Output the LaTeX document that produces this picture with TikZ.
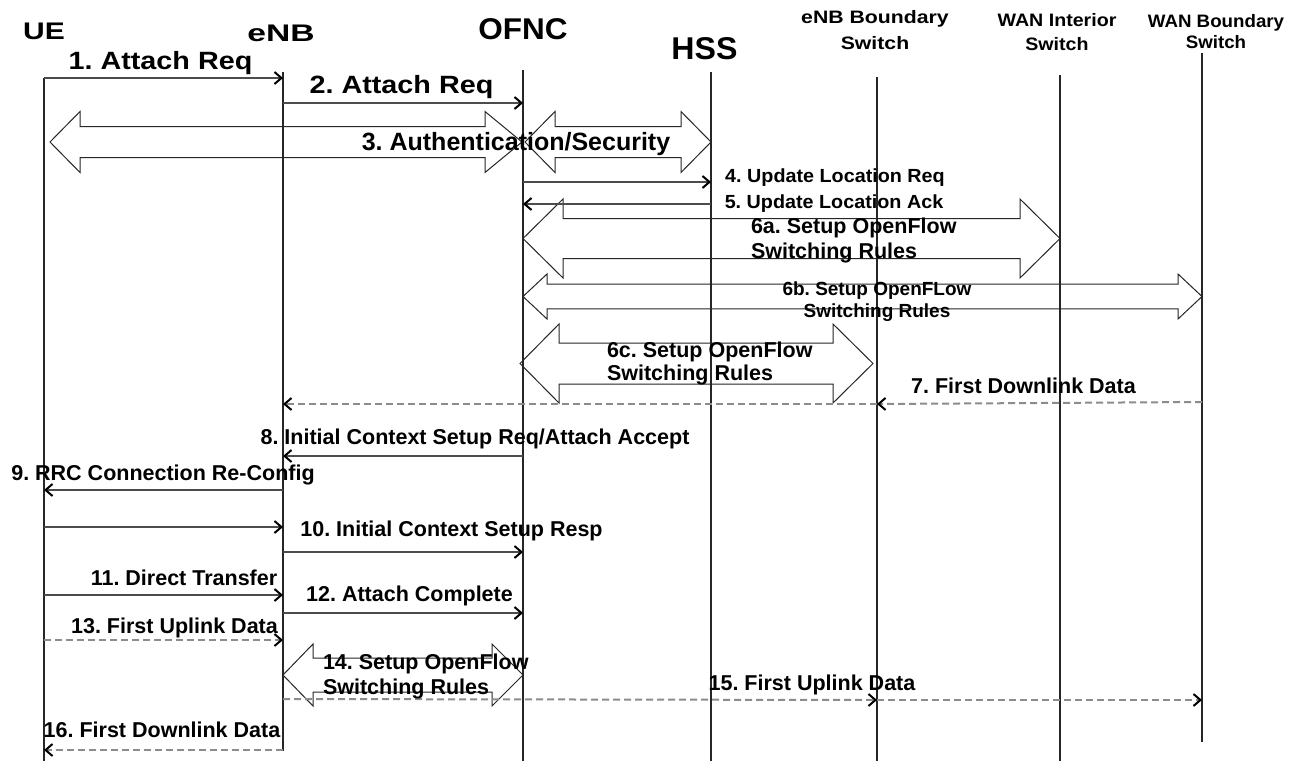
\documentclass[tikz,border=0pt]{standalone}
\usepackage{graphicx}
\usepackage{fontspec}
\setmainfont{Liberation Sans}
\usetikzlibrary{arrows.meta}
\newcommand\lab[3]{{\fontsize{#1}{#1}\selectfont\bfseries\scalebox{#2}[1]{#3}}}
\newcommand\labtwo[5]{{\fontsize{#1}{#2}\selectfont\bfseries\scalebox{#3}[1]{\begin{tabular}[t]{@{}#4@{}}#5\end{tabular}}}}
% #1 left tip x, #2 right tip x, #3 centre y, #4 shaft half height, #5 head half height, #6 left head length, #7 right head length
\newcommand\blockarrow[7]{%
  \draw[blk] (#1,#3) -- (#1+#6,#3-#5) -- (#1+#6,#3-#4) -- (#2-#7,#3-#4) -- (#2-#7,#3-#5) -- (#2,#3)
    -- (#2-#7,#3+#5) -- (#2-#7,#3+#4) -- (#1+#6,#3+#4) -- (#1+#6,#3+#5) -- cycle;}
\frenchspacing
\begin{document}
\begin{tikzpicture}[x=1pt,y=-1pt,
  life/.style={line width=1.4pt, draw=black!85},
  msg/.style={line width=2pt, draw=black!70, -{Straight Barb[length=7pt,width=12pt,line width=2pt,color=black]}},
  dmsg/.style={msg, draw=black!45, dash pattern=on 7pt off 4pt},
  blk/.style={line width=1pt, draw=black!85},
  txt/.style={inner sep=0pt, outer sep=0pt, anchor=base},
  txtl/.style={inner sep=0pt, outer sep=0pt, anchor=base west}]

\fill[white] (0,0) rectangle (1302,761);
\useasboundingbox (0,0) rectangle (1302,761);

% headers
\node[txt] (hUE) at (44,39) {\lab{24}{1.25}{UE}};
\node[txt] (hENB) at (281,41) {\lab{24}{1.4}{eNB}};
\node[txt] (hOFNC) at (523,39) {\lab{30}{1.05}{OFNC}};
\node[txt] (hHSS) at (704.5,59) {\lab{31.5}{1.02}{HSS}};
\node[txt] (hEBS) at (875,23) {\labtwo{18}{26}{1.18}{c}{eNB Boundary\\Switch}};
\node[txt] (hWIS) at (1057,26) {\labtwo{18}{24}{1.09}{c}{WAN Interior\\Switch}};
\node[txt] (hWBS) at (1216,27) {\labtwo{18}{21}{1.04}{c}{WAN Boundary\\Switch}};

% lifelines
\coordinate (UE) at (44,78);     \coordinate (UEb) at (44,761);
\coordinate (ENB) at (283,72);   \coordinate (ENBb) at (283,751);
\coordinate (OFNC) at (523,70);  \coordinate (OFNCb) at (523,761);
\coordinate (HSS) at (711,72);   \coordinate (HSSb) at (711,761);
\coordinate (EBS) at (877,77);   \coordinate (EBSb) at (877,761);
\coordinate (WIS) at (1060,75);  \coordinate (WISb) at (1060,761);
\coordinate (WBS) at (1202,53);  \coordinate (WBSb) at (1202,742);
\draw[life] (UE) -- (UEb);
\draw[life] (ENB) -- (ENBb);
\draw[life] (OFNC) -- (OFNCb);
\draw[life] (HSS) -- (HSSb);
\draw[life] (EBS) -- (EBSb);
\draw[life] (WIS) -- (WISb);
\draw[life] (WBS) -- (WBSb);

% block double arrows
\blockarrow{50}{522}{142}{15.5}{30.5}{30}{37}
\blockarrow{525}{711}{142}{15.5}{30.5}{30}{30}
\blockarrow{523}{1060}{238.5}{20}{39.5}{40}{40}
\blockarrow{523}{1202}{296.5}{12.3}{22.5}{24}{24}
\blockarrow{520}{873}{363.5}{20.5}{39.5}{39}{40}
\blockarrow{283}{523}{675}{17}{31}{30}{31}

% messages
\draw[msg] (UE |- 0,78) -- (ENB |- 0,78);
\draw[msg] (ENB |- 0,103) -- (OFNC |- 0,103);
\draw[msg] (OFNC |- 0,182) -- (HSS |- 0,182);
\draw[msg] (HSS |- 0,204) -- (OFNC |- 0,204);
\draw[dmsg] (WBS |- 0,402) -- (EBS |- 0,404);
\draw[dmsg] (EBS |- 0,404) -- (ENB |- 0,404);
\draw[msg] (OFNC |- 0,456) -- (ENB |- 0,456);
\draw[msg] (ENB |- 0,490) -- (UE |- 0,490);
\draw[msg] (UE |- 0,527) -- (ENB |- 0,527);
\draw[msg] (ENB |- 0,552) -- (OFNC |- 0,552);
\draw[msg] (UE |- 0,595) -- (ENB |- 0,595);
\draw[msg] (ENB |- 0,613) -- (OFNC |- 0,613);
\draw[dmsg] (UE |- 0,640) -- (ENB |- 0,640);
\draw[dmsg] (ENB |- 0,699) -- (EBS |- 0,700);
\draw[dmsg] (EBS |- 0,700) -- (WBS |- 0,700);
\draw[dmsg] (ENB |- 0,750) -- (UE |- 0,750);

% labels
\node[txt] (m1) at (160.5,69) {\lab{25}{1.15}{1. Attach Req}};
\node[txt] (m2) at (401.5,93) {\lab{25}{1.15}{2. Attach Req}};
\node[txt] (m3) at (516,150) {\lab{25}{1.0}{3. Authentication/Security}};
\node[txt] (m4) at (835,182) {\lab{19}{1.04}{4. Update Location Req}};
\node[txt] (m5) at (834,208) {\lab{19}{1.04}{5. Update Location Ack}};
\node[txtl] (m6a) at (751,233) {\labtwo{21.5}{25}{1}{l}{6a. Setup OpenFlow\\Switching Rules}};
\node[txt] (m6b) at (877,295) {\labtwo{19}{22}{1}{c}{6b. Setup OpenFLow\\Switching Rules}};
\node[txtl] (m6c) at (607,357) {\labtwo{21.5}{23}{1}{l}{6c. Setup OpenFlow\\Switching Rules}};
\node[txt] (m7) at (1023.5,393) {\lab{21.5}{1}{7. First Downlink Data}};
\node[txt] (m8) at (475,444) {\lab{21.5}{1}{8. Initial Context Setup Req/Attach Accept}};
\node[txt] (m9) at (163,480) {\lab{21.5}{1}{9. RRC Connection Re-Config}};
\node[txt] (m10) at (451.5,536) {\lab{21.5}{1}{10. Initial Context Setup Resp}};
\node[txt] (m11) at (184,585) {\lab{21.5}{1}{11. Direct Transfer}};
\node[txt] (m12) at (409.5,601) {\lab{21.5}{1}{12. Attach Complete}};
\node[txt] (m13) at (174.5,633) {\lab{21.5}{1}{13. First Uplink Data}};
\node[txtl] (m14) at (323,669) {\labtwo{21.5}{25}{1}{l}{14. Setup OpenFlow\\Switching Rules}};
\node[txt] (m15) at (812,690) {\lab{21.5}{1}{15. First Uplink Data}};
\node[txt] (m16) at (162,737) {\lab{21.5}{1}{16. First Downlink Data}};
\end{tikzpicture}
\end{document}
